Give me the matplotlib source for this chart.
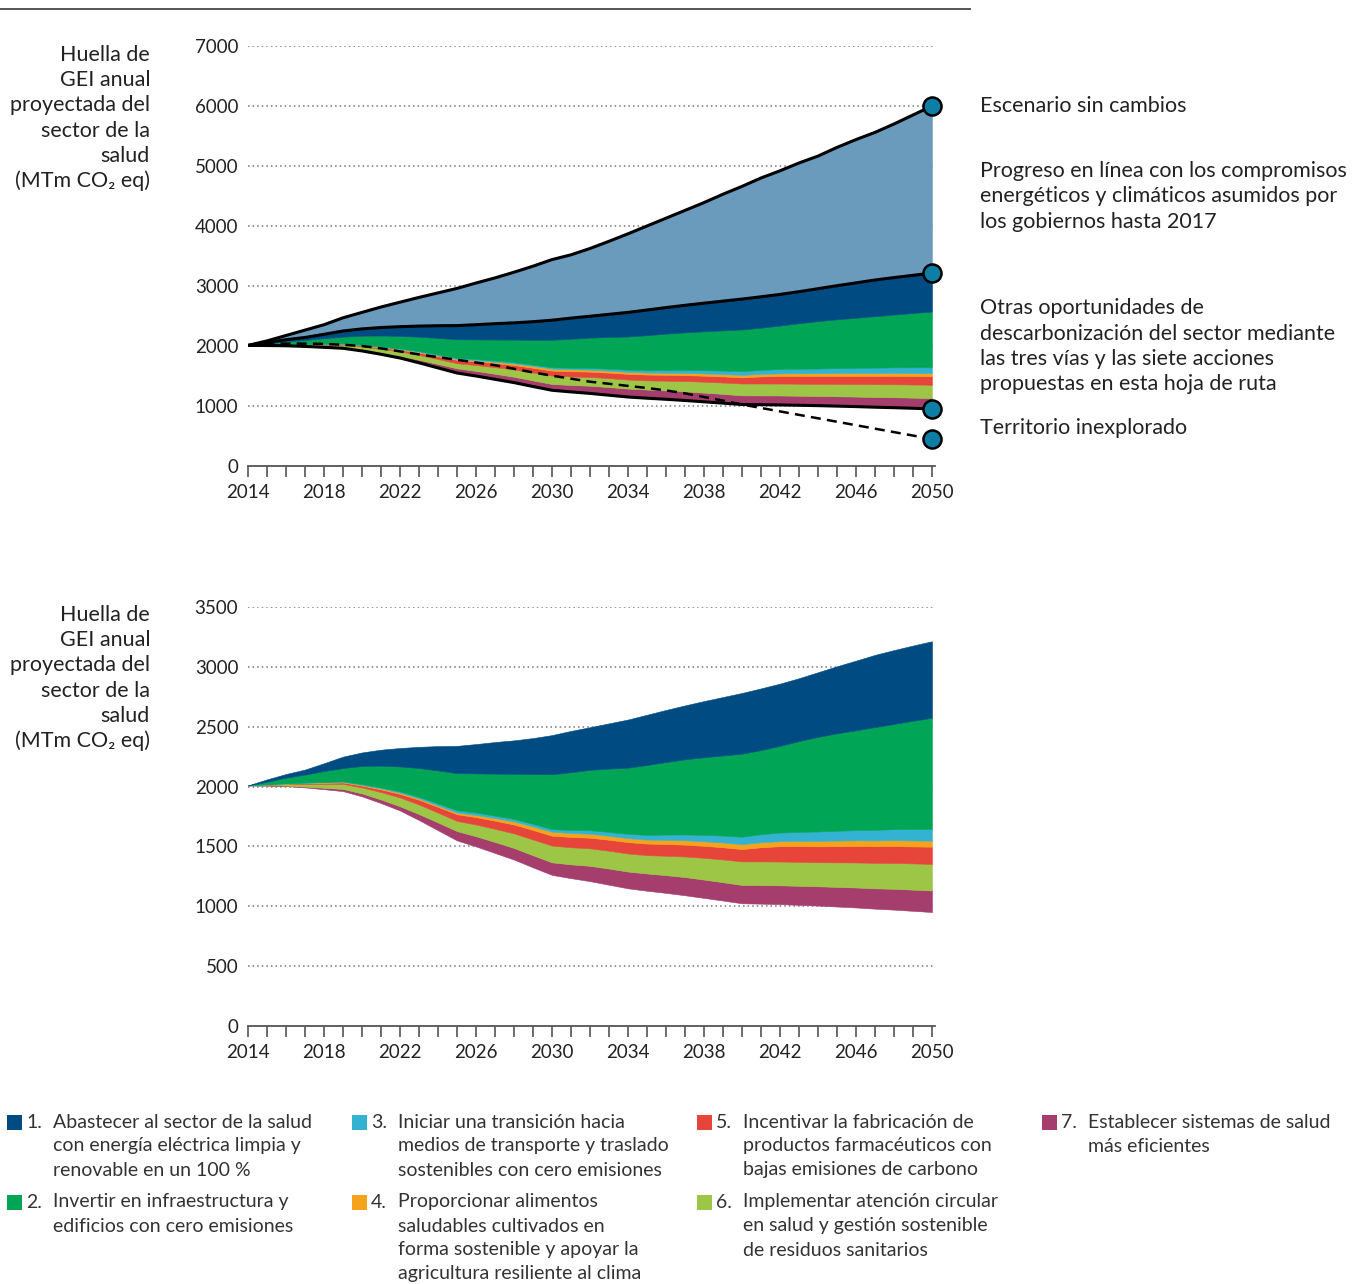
import numpy as np
import matplotlib
matplotlib.use("Agg")
import matplotlib.pyplot as plt
from matplotlib.patches import Rectangle
from matplotlib.lines import Line2D

plt.rcParams['font.family'] = ['Lato', 'DejaVu Sans']

# ---------------- data ----------------
years = list(range(2014, 2051))

# Business-as-usual trajectory (top of light blue area)
bau = [2010, 2085, 2175, 2265, 2355, 2470, 2560, 2650, 2730, 2810, 2885, 2960,
       3050, 3135, 3230, 3330, 3440, 3520, 3625, 3745, 3870, 4000, 4130, 4260,
       4390, 4530, 4660, 4800, 4920, 5050, 5165, 5310, 5440, 5560, 5700, 5850, 6000]

# Residual emissions (bottom of the stacked wedges)
residual = [2010, 2008, 2004, 1993, 1978, 1962, 1918, 1862, 1800, 1720, 1635, 1550,
            1500, 1445, 1390, 1325, 1262, 1235, 1210, 1180, 1150, 1130, 1112, 1092,
            1070, 1048, 1025, 1022, 1018, 1012, 1006, 998, 990, 980, 972, 962, 952]

# Wedges (thickness) for the seven actions
w7 = [0, 2, 4, 7, 12, 18, 25, 30, 35, 50, 65, 78, 85, 92, 97, 101, 105, 115, 128,
      135, 140, 144, 148, 152, 153, 153, 153, 155, 157, 159, 161, 164, 167, 170,
      174, 177, 180]
w6 = [0, 5, 12, 22, 32, 42, 50, 62, 74, 80, 82, 85, 98, 110, 122, 132, 140, 143,
      146, 149, 151, 153, 162, 172, 182, 190, 197, 198, 199, 200, 201, 205, 209,
      213, 216, 219, 222]
w5 = [0, 2, 4, 6, 9, 12, 15, 22, 30, 40, 48, 56, 62, 68, 74, 79, 83, 86, 89, 92,
      95, 97, 98, 99, 100, 102, 103, 118, 128, 131, 133, 135, 137, 139, 141, 142, 144]
w4 = [0, 1, 2, 3, 4, 5, 6, 8, 10, 11, 12, 14, 18, 22, 26, 30, 33, 33, 33, 33, 33,
      33, 35, 37, 38, 40, 41, 42, 42, 44, 46, 47, 48, 48, 49, 50, 50]
w3 = [0, 1, 2, 3, 4, 5, 6, 8, 10, 13, 16, 19, 20, 20, 21, 21, 22, 25, 29, 32, 36,
      39, 44, 48, 53, 58, 62, 67, 72, 75, 78, 82, 85, 89, 92, 95, 97]
w2 = [0, 21, 47, 66, 91, 111, 152, 183, 209, 241, 277, 310, 327, 351, 376, 416,
      458, 483, 505, 529, 553, 584, 606, 628, 649, 669, 694, 703, 724, 759, 790,
      814, 834, 858, 879, 905, 930]
w1 = [0, 20, 30, 42, 65, 95, 113, 133, 154, 177, 203, 228, 245, 264, 280, 301,
      327, 345, 356, 378, 402, 420, 435, 450, 469, 488, 507, 515, 520, 525, 540,
      560, 582, 603, 617, 628, 639]

# "Territorio inexplorado" dashed path
dash_years = list(range(2014, 2041)) + [2050]
dash_vals = [2010, 2030, 2040, 2040, 2035, 2020, 2000, 1960, 1910, 1860, 1815,
             1770, 1725, 1680, 1620, 1560, 1505, 1455, 1405, 1370, 1335, 1300,
             1260, 1210, 1150, 1090, 1025, 450]

top_yticks = [0, 1000, 2000, 3000, 4000, 5000, 6000, 7000]
bot_yticks = [0, 500, 1000, 1500, 2000, 2500, 3000, 3500]
xtick_labels = list(range(2014, 2051, 4))

colors = {
    'bau': '#6a9bbd',
    1: '#004c82',
    2: '#00a555',
    3: '#33b3d1',
    4: '#f5a31a',
    5: '#e8453a',
    6: '#9dc647',
    7: '#a53d6d',
}
marker_fill = '#0d7fa6'
text_col = '#222222'

legend_items = [
    (1, ["Abastecer al sector de la salud", "con energía eléctrica limpia y", "renovable en un 100 %"]),
    (2, ["Invertir en infraestructura y", "edificios con cero emisiones"]),
    (3, ["Iniciar una transición hacia", "medios de transporte y traslado", "sostenibles con cero emisiones"]),
    (4, ["Proporcionar alimentos", "saludables cultivados en", "forma sostenible y apoyar la", "agricultura resiliente al clima"]),
    (5, ["Incentivar la fabricación de", "productos farmacéuticos con", "bajas emisiones de carbono"]),
    (6, ["Implementar atención circular", "en salud y gestión sostenible", "de residuos sanitarios"]),
    (7, ["Establecer sistemas de salud", "más eficientes"]),
]

ylabel_lines = ["Huella de", "GEI anual", "proyectada del", "sector de la", "salud", "(MTm CO₂ eq)"]

annotations = [
    (106, ["Escenario sin cambios"]),
    (171, ["Progreso en línea con los compromisos", "energéticos y climáticos asumidos por", "los gobiernos hasta 2017"]),
    (308, ["Otras oportunidades de", "descarbonización del sector mediante", "las tres vías y las siete acciones", "propuestas en esta hoja de ruta"]),
    (428, ["Territorio inexplorado"]),
]

# ---------------- figure ----------------
W, H = 1361, 1284
fig = plt.figure(figsize=(W / 100, H / 100), dpi=100)
fig.patch.set_facecolor('white')


def fx(x):
    return x / W


def fy(y):
    return 1 - y / H


def ax_rect(left, right, top, bottom):
    return [fx(left), fy(bottom), (right - left) / W, (bottom - top) / H]


ax_top = fig.add_axes(ax_rect(248, 935, 46, 466))
ax_bot = fig.add_axes(ax_rect(248, 935, 607, 1026))

wedges = [w7, w6, w5, w4, w3, w2, w1]
wedge_cols = [colors[7], colors[6], colors[5], colors[4], colors[3], colors[2], colors[1]]

yrs = np.array(years, dtype=float)
cum_top = np.array(residual, dtype=float) + np.sum(np.array(wedges, dtype=float), axis=0)


def style_axis(ax, ymax, yticks):
    ax.set_xlim(2014, 2050.16)
    ax.set_ylim(0, ymax)
    for s in ['top', 'right', 'left']:
        ax.spines[s].set_visible(False)
    ax.spines['bottom'].set_color('#555555')
    ax.spines['bottom'].set_linewidth(1.3)
    ax.set_yticks(yticks)
    ax.set_yticklabels([str(v) for v in yticks], fontsize=13.5, color=text_col)
    ax.tick_params(axis='y', length=0, pad=7)
    ax.set_xticks(xtick_labels)
    ax.set_xticklabels([str(v) for v in xtick_labels], fontsize=13.5, color=text_col)
    ax.set_xticks(years, minor=True)
    ax.tick_params(axis='x', which='both', length=8, width=1.2, color='#555555',
                   direction='out', pad=5)
    for v in yticks[1:]:
        ax.axhline(v, color='#777777', lw=1.1, ls=(0, (1, 2)), zorder=0)


def draw_stack(ax):
    polys = ax.stackplot(yrs, residual, *wedges,
                         colors=['none'] + wedge_cols, zorder=2)
    for p, c in zip(polys, ['none'] + wedge_cols):
        if c != 'none':
            p.set_edgecolor(c)
            p.set_linewidth(0.4)
        else:
            p.set_linewidth(0)


# ---- top chart ----
style_axis(ax_top, 7000, top_yticks)
draw_stack(ax_top)
ax_top.fill_between(yrs, cum_top, bau, color=colors['bau'], lw=0.4,
                    edgecolor=colors['bau'], zorder=2)
lw = 2.2
ax_top.plot(yrs, bau, color='black', lw=lw, zorder=4, solid_capstyle='round')
ax_top.plot(yrs, cum_top, color='black', lw=lw, zorder=4, solid_capstyle='round')
ax_top.plot(yrs, residual, color='black', lw=lw, zorder=4, solid_capstyle='round')
ax_top.plot(dash_years, dash_vals, color='black', lw=1.8, ls=(0, (4, 2.5)), zorder=4)
for v in [bau[-1], cum_top[-1], residual[-1], dash_vals[-1]]:
    ax_top.plot([2050], [v], marker='o', ms=13, mfc=marker_fill, mec='black',
                mew=1.8, zorder=6, clip_on=False)

# ---- bottom chart ----
style_axis(ax_bot, 3500, bot_yticks)
draw_stack(ax_bot)

# ---- top rule ----
fig.add_artist(Line2D([fx(0), fx(970)], [fy(9), fy(9)], color='#555555', lw=1.4,
                      transform=fig.transFigure))

# ---- y labels ----
for base in (55, 615):
    for i, line in enumerate(ylabel_lines):
        fig.text(fx(150), fy(base + i * 25.2), line, ha='right', va='center',
                 fontsize=15.5, color=text_col)

# ---- annotations ----
for y0, lines in annotations:
    for i, line in enumerate(lines):
        fig.text(fx(980), fy(y0 + i * 25.5), line, ha='left', va='center',
                 fontsize=15.5, color=text_col)

# ---- legend ----
col_x = {1: 7, 2: 7, 3: 352, 4: 352, 5: 697, 6: 697, 7: 1042}
row_y = {1: 1122, 3: 1122, 5: 1122, 7: 1122, 2: 1202, 4: 1202, 6: 1202}
for num, lines in legend_items:
    x0 = col_x[num]
    y0 = row_y[num]
    fig.add_artist(Rectangle((fx(x0), fy(y0 + 7.5)), 14.5 / W, 15 / H,
                             facecolor=colors[num], edgecolor='none',
                             transform=fig.transFigure))
    fig.text(fx(x0 + 19), fy(y0), f"{num}.", ha='left', va='center',
             fontsize=14, color='#333333')
    for i, line in enumerate(lines):
        fig.text(fx(x0 + 46), fy(y0 + i * 24), line, ha='left', va='center',
                 fontsize=14, color='#333333')

fig.savefig('out.png', dpi=100, facecolor='white')
